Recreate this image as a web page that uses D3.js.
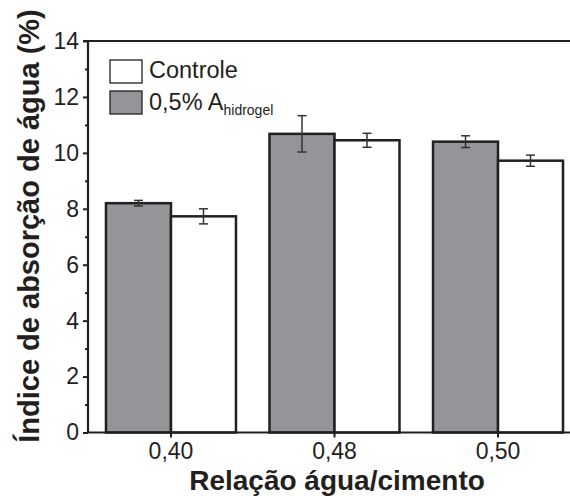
<!DOCTYPE html>
<html>
<head>
<meta charset="utf-8">
<script src="https://cdn.jsdelivr.net/npm/d3@7"></script>
<style>
  html, body { margin: 0; padding: 0; background: #fff; }
  svg { display: block; }
  text { font-family: "Liberation Sans", Arial, Helvetica, sans-serif; fill: #231f20; }
</style>
</head>
<body>
<svg id="chart" width="570" height="496"></svg>
<script>
// Water/cement ratios on the x axis
const categories = ["0,40", "0,48", "0,50"];
// Series: hydrogel mix and control mix
const seriesNames = ["0,5% A", "Controle"];
const hidrogelValues = [8.2, 10.68, 10.4];
const hidrogelErrors = [0.1, 0.65, 0.21];
const controleValues = [7.73, 10.45, 9.72];
const controleErrors = [0.27, 0.25, 0.2];
const yMajorTicks = [0, 2, 4, 6, 8, 10, 12, 14];
const yMinorTicks = [1, 3, 5, 7, 9, 11, 13];

const ink = "#231f20";
const grey = "#939598";

const svg = d3.select("#chart");
const plotLeft = 88, plotRight = 581, plotTop = 41, plotBottom = 432.5;

const x = d3.scaleBand().domain(categories).range([plotLeft, plotRight])
  .paddingInner(0.205).paddingOuter(0.11);
const xs = d3.scaleBand().domain(["hidrogel", "controle"]).range([0, x.bandwidth()]);
const y = d3.scaleLinear().domain([0, 14]).range([plotBottom, plotTop]);

const rows = categories.map((c, i) => ({
  cat: c,
  bars: [
    { key: "hidrogel", value: hidrogelValues[i], err: hidrogelErrors[i], fill: grey },
    { key: "controle", value: controleValues[i], err: controleErrors[i], fill: "#fff" }
  ]
}));

// Frame: top and right edges
svg.append("line").attr("x1", plotLeft - 5).attr("x2", plotRight).attr("y1", y(14)).attr("y2", y(14))
  .attr("stroke", ink).attr("stroke-width", 2.2);
svg.append("line").attr("x1", plotRight).attr("x2", plotRight).attr("y1", plotTop).attr("y2", plotBottom)
  .attr("stroke", ink).attr("stroke-width", 2.2);

// Bars
const groups = svg.selectAll("g.grp").data(rows).join("g")
  .attr("class", "grp").attr("transform", d => `translate(${x(d.cat)},0)`);
groups.selectAll("rect").data(d => d.bars).join("rect")
  .attr("x", d => xs(d.key))
  .attr("width", xs.bandwidth())
  .attr("y", d => y(d.value))
  .attr("height", d => y(0) - y(d.value))
  .attr("fill", d => d.fill)
  .attr("stroke", ink).attr("stroke-width", 2.5);

// Error bars
const capHalf = 4.5;
groups.selectAll("g.err").data(d => d.bars).join("g").attr("class", "err")
  .each(function (d) {
    const g = d3.select(this);
    const cx = xs(d.key) + xs.bandwidth() / 2;
    const col = "#333";
    g.append("line").attr("x1", cx).attr("x2", cx)
      .attr("y1", y(d.value + d.err)).attr("y2", y(d.value - d.err))
      .attr("stroke", col).attr("stroke-width", 1.5);
    [d.value + d.err, d.value - d.err].forEach(v => {
      g.append("line").attr("x1", cx - capHalf).attr("x2", cx + capHalf)
        .attr("y1", y(v)).attr("y2", y(v))
        .attr("stroke", col).attr("stroke-width", 1.5);
    });
  });

// Y axis: major and minor ticks
const yAxis = svg.append("g").attr("transform", `translate(${plotLeft},0)`)
  .call(d3.axisLeft(y).tickValues(yMajorTicks).tickSize(5).tickPadding(4).tickFormat(d3.format("d")));
svg.append("g").attr("transform", `translate(${plotLeft},0)`)
  .call(d3.axisLeft(y).tickValues(yMinorTicks).tickSize(3).tickFormat(""))
  .call(g => g.select(".domain").remove());

// X axis
const xAxis = svg.append("g").attr("transform", `translate(0,${plotBottom})`)
  .call(d3.axisBottom(x).tickSize(5).tickPadding(5).tickSizeOuter(0));

svg.selectAll(".domain").attr("stroke", ink).attr("stroke-width", 2.2);
svg.selectAll(".tick line").attr("stroke", ink).attr("stroke-width", 2);
svg.selectAll(".tick text").attr("font-size", 23).attr("fill", ink)
  .style("font-family", "'Liberation Sans', Arial, sans-serif");
yAxis.select(".domain").attr("d", `M0,${plotBottom}V${plotTop}`);
xAxis.select(".domain").attr("d", `M${plotLeft - 1},0H${plotRight}`);

// Axis titles
svg.append("text").attr("x", 337).attr("y", 490)
  .attr("text-anchor", "middle").attr("font-size", 28).attr("font-weight", "bold")
  .text("Relação água/cimento");
svg.append("text").attr("transform", "translate(39,226) rotate(-90)")
  .attr("text-anchor", "middle").attr("font-size", 29).attr("font-weight", "bold")
  .text("Índice de absorção de água (%)");

// Legend
const legend = svg.append("g");
legend.append("rect").attr("x", 110).attr("y", 60).attr("width", 32).attr("height", 23)
  .attr("fill", "#fff").attr("stroke", ink).attr("stroke-width", 1.3);
legend.append("text").attr("x", 149).attr("y", 78).attr("font-size", 23.5).text(seriesNames[1]);
legend.append("rect").attr("x", 110).attr("y", 91).attr("width", 32).attr("height", 23)
  .attr("fill", grey).attr("stroke", ink).attr("stroke-width", 1.3);
const t2 = legend.append("text").attr("x", 149).attr("y", 110).attr("font-size", 23.5);
t2.append("tspan").text(seriesNames[0]);
t2.append("tspan").attr("font-size", 14).attr("dy", 5).text("hidrogel");
</script>
</body>
</html>
